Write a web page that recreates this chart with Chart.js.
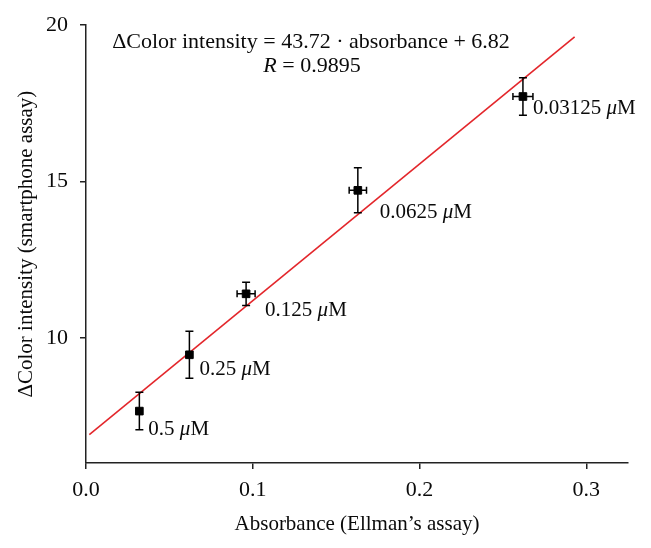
<!DOCTYPE html>
<html><head><meta charset="utf-8">
<script src="https://cdn.jsdelivr.net/npm/chart.js@4.4.0/dist/chart.umd.min.js"></script>
<style>html,body{margin:0;padding:0;background:#fff}#wrap{width:651px;height:548px}</style>
</head><body><div id="wrap"><canvas id="c" width="651" height="548"></canvas></div>
<script>
// ---- data ----
const absorbance = [0.032, 0.062, 0.096, 0.163, 0.262];
const absorbanceErr = [0, 0, 0.0054, 0.0052, 0.006];
const colorIntensity = [7.66, 9.46, 11.41, 14.72, 17.72];
const colorIntensityErr = [0.6, 0.75, 0.37, 0.72, 0.6];
const concentrations = ['0.5', '0.25', '0.125', '0.0625', '0.03125'];
const fitSlope = 43.72;
const fitIntercept = 6.82;
const fitR = '0.9895';
const fitRange = [0.002, 0.293];
const xTicks = [0, 0.1, 0.2, 0.3];
const yTicks = [10, 15, 20];

// ---- styles ----
const FONT = 'Liberation Serif';
const INK = '#0a0a0a';
const labelOffsets = [[9, 24], [10, 20], [19, 22], [22, 28], [10, 18]];

const errorBars = {
  id: 'errorBars',
  afterDatasetsDraw(chart) {
    const {ctx, scales: {x, y}} = chart;
    ctx.save();
    ctx.strokeStyle = '#000';
    ctx.lineWidth = 1.5;
    absorbance.forEach((a, i) => {
      const px = x.getPixelForValue(a), py = y.getPixelForValue(colorIntensity[i]);
      const yt = y.getPixelForValue(colorIntensity[i] + colorIntensityErr[i]);
      const yb = y.getPixelForValue(colorIntensity[i] - colorIntensityErr[i]);
      ctx.beginPath();
      ctx.moveTo(px, yt); ctx.lineTo(px, yb);
      ctx.moveTo(px - 4, yt); ctx.lineTo(px + 4, yt);
      ctx.moveTo(px - 4, yb); ctx.lineTo(px + 4, yb);
      if (absorbanceErr[i] > 0) {
        const xl = x.getPixelForValue(a - absorbanceErr[i]);
        const xr = x.getPixelForValue(a + absorbanceErr[i]);
        ctx.moveTo(xl, py); ctx.lineTo(xr, py);
        ctx.moveTo(xl, py - 3.5); ctx.lineTo(xl, py + 3.5);
        ctx.moveTo(xr, py - 3.5); ctx.lineTo(xr, py + 3.5);
      }
      ctx.stroke();
    });
    ctx.restore();
  }
};

function drawParts(ctx, parts, x, y, align) {
  let total = 0;
  parts.forEach(p => { ctx.font = p[1]; total += ctx.measureText(p[0]).width; });
  let cx = align === 'center' ? x - total / 2 : x;
  ctx.textAlign = 'left';
  parts.forEach(p => { ctx.font = p[1]; ctx.fillText(p[0], cx, y); cx += ctx.measureText(p[0]).width; });
}

const annotations = {
  id: 'annotations',
  afterDraw(chart) {
    const {ctx, scales: {x, y}} = chart;
    ctx.save();
    ctx.fillStyle = INK;
    ctx.textBaseline = 'alphabetic';
    const up = `22px "${FONT}"`, it = `italic 22px "${FONT}"`;
    drawParts(ctx, [[`\u0394Color intensity = ${fitSlope} \u00B7 absorbance + ${fitIntercept}`, up]], 311, 48, 'center');
    drawParts(ctx, [['R', it], [` = ${fitR}`, up]], 312, 72, 'center');
    const lu = `21px "${FONT}"`, li = `italic 21px "${FONT}"`;
    concentrations.forEach((c, i) => {
      const px = x.getPixelForValue(absorbance[i]) + labelOffsets[i][0];
      const py = y.getPixelForValue(colorIntensity[i]) + labelOffsets[i][1];
      drawParts(ctx, [[c + ' ', lu], ['\u03BC', li], ['M', lu]], px, py, 'left');
    });
    ctx.restore();
  }
};

new Chart(document.getElementById('c'), {
  type: 'scatter',
  data: {
    datasets: [
      {
        label: 'data',
        data: absorbance.map((a, i) => ({x: a, y: colorIntensity[i]})),
        pointStyle: 'rect', pointRadius: 5.4, pointHoverRadius: 5.4,
        backgroundColor: '#000', borderColor: '#000', borderWidth: 1,
        order: 1
      },
      {
        label: 'fit',
        data: fitRange.map(a => ({x: a, y: fitSlope * a + fitIntercept})),
        showLine: true, pointRadius: 0, borderColor: '#e3262b', borderWidth: 1.6,
        fill: false, order: 2
      }
    ]
  },
  options: {
    responsive: false, animation: false,
    layout: {padding: {left: 0, right: 23, top: 22, bottom: 0}},
    plugins: {legend: {display: false}, tooltip: {enabled: false}},
    scales: {
      x: {
        type: 'linear', min: 0, max: 0.325,
        afterBuildTicks: s => { s.ticks = xTicks.map(v => ({value: v})); },
        afterFit: s => { s.height = 85; },
        grid: {drawOnChartArea: false, drawTicks: true, tickLength: 6, color: '#222', lineWidth: 1.5},
        border: {color: '#222', width: 1.5},
        ticks: {callback: v => Number(v).toFixed(1), font: {family: FONT, size: 22}, color: INK, padding: 8, maxRotation: 0, autoSkip: false},
        title: {display: true, text: 'Absorbance (Ellman\u2019s assay)', font: {family: FONT, size: 21}, color: INK, padding: {top: 0, bottom: 11}}
      },
      y: {
        type: 'linear', min: 6, max: 20,
        afterBuildTicks: s => { s.ticks = yTicks.map(v => ({value: v})); },
        afterFit: s => { s.width = 86; },
        grid: {drawOnChartArea: false, drawTicks: true, tickLength: 6, color: '#222', lineWidth: 1.5},
        border: {color: '#222', width: 1.5},
        ticks: {callback: v => String(v), font: {family: FONT, size: 22}, color: INK, padding: 12, autoSkip: false},
        title: {display: true, text: '\u0394Color intensity (smartphone assay)', font: {family: FONT, size: 21}, color: INK, padding: {top: 14, bottom: 0}}
      }
    }
  },
  plugins: [errorBars, annotations]
});
</script></body></html>
